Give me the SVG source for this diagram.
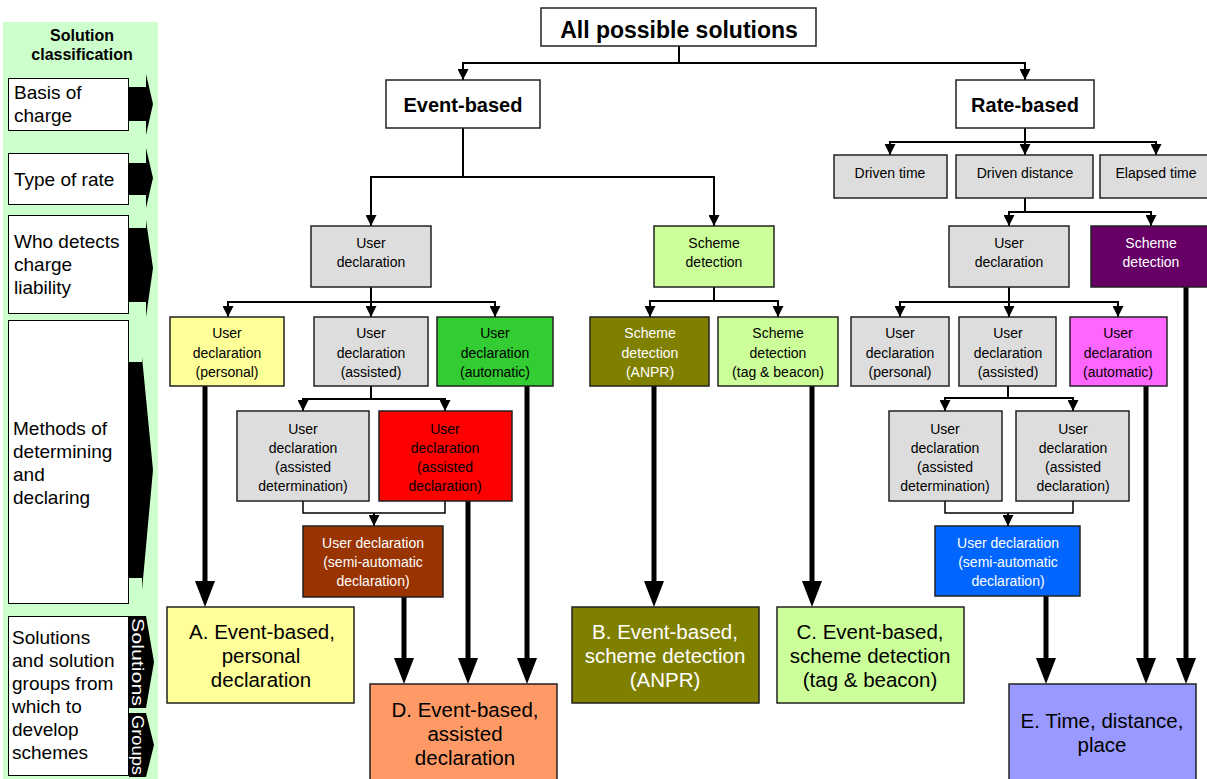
<svg xmlns="http://www.w3.org/2000/svg" width="1207" height="779" viewBox="0 0 1207 779">
<style>
text{font-family:"Liberation Sans",Arial,sans-serif;fill:#000}
.lp{font-size:19px}
.sm{font-size:14px;text-anchor:middle}
.big{font-size:20.5px;text-anchor:middle}
.hd{font-weight:bold;text-anchor:middle}
.w{fill:#fff}
.box{stroke:#222;stroke-width:1.5}
.lbox{fill:#fff;stroke:#000;stroke-width:1}
.thin{fill:none;stroke:#000;stroke-width:2}
.thick{fill:none;stroke:#000;stroke-width:5}
.gray{fill:#DDDDDD}
</style>
<defs>
<marker id="ah" markerUnits="userSpaceOnUse" markerWidth="11" markerHeight="11" viewBox="0 0 10 10" refX="10" refY="5" orient="auto"><path d="M0,0 L10,5 L0,10 z" fill="#000"/></marker>
<marker id="ahb" markerUnits="userSpaceOnUse" markerWidth="26" markerHeight="20" viewBox="0 0 26 20" refX="6" refY="10" orient="auto"><path d="M0,0 L26,10 L0,20 z" fill="#000"/></marker>
</defs>

<g id="legend">
<rect x="3" y="22" width="155" height="757" fill="#CCFFCC"/>
<text class="hd" x="82" y="41" font-size="16">Solution</text>
<text class="hd" x="82" y="60" font-size="16">classification</text>
<rect class="lbox" x="8.5" y="78.5" width="120" height="52"/>
<text class="lp" x="14" y="99">Basis of</text>
<text class="lp" x="14" y="122">charge</text>
<path d="M128,87 H146 V74 L153,104 L146,135 V121 H128 Z" fill="#000"/>
<rect class="lbox" x="8.5" y="153.5" width="120" height="51"/>
<text class="lp" x="14" y="186">Type of rate</text>
<path d="M128,163 H146 V148 L153,178 L146,208 V195 H128 Z" fill="#000"/>
<rect class="lbox" x="8.5" y="215.5" width="120" height="98"/>
<text class="lp" x="14" y="248">Who detects</text>
<text class="lp" x="14" y="271">charge</text>
<text class="lp" x="14" y="294">liability</text>
<path d="M128,228 H146 V220 L153,268 L146,317 V302 H128 Z" fill="#000"/>
<rect class="lbox" x="8.5" y="320.5" width="120" height="283"/>
<text class="lp" x="13" y="435">Methods of</text>
<text class="lp" x="13" y="458">determining</text>
<text class="lp" x="13" y="481">and</text>
<text class="lp" x="13" y="504">declaring</text>
<path d="M128,362 H142 V357 L153,470 L142,590 V578 H128 Z" fill="#000"/>
<rect class="lbox" x="8.5" y="616.5" width="120" height="159"/>
<text class="lp" x="12" y="644">Solutions</text>
<text class="lp" x="12" y="667">and solution</text>
<text class="lp" x="12" y="690">groups from</text>
<text class="lp" x="12" y="713">which to</text>
<text class="lp" x="12" y="736">develop</text>
<text class="lp" x="12" y="759">schemes</text>
<path d="M129,616 H146 L154,662 L146,708 H129 Z" fill="#000"/>
<path d="M129,713 H146 L154,745 L146,777 H129 Z" fill="#000"/>
<text class="w" font-size="16" text-anchor="middle" transform="translate(132,662) rotate(90)" textLength="88" lengthAdjust="spacingAndGlyphs">Solutions</text>
<text class="w" font-size="16" text-anchor="middle" transform="translate(132,745) rotate(90)" textLength="60" lengthAdjust="spacingAndGlyphs">Groups</text>
</g>

<g id="connectors">
<path class="thin" d="M679,46 V63"/>
<path class="thin" d="M679,63 H463 V80" marker-end="url(#ah)"/>
<path class="thin" d="M679,63 H1025 V80" marker-end="url(#ah)"/>
<path class="thin" d="M463,128 V177 H371 V226" marker-end="url(#ah)"/>
<path class="thin" d="M463,177 H714 V226" marker-end="url(#ah)"/>
<path class="thin" d="M371,287 V302 H228 V317" marker-end="url(#ah)"/>
<path class="thin" d="M371,302 V317" marker-end="url(#ah)"/>
<path class="thin" d="M371,302 H495 V317" marker-end="url(#ah)"/>
<path class="thin" d="M714,287 V301 H650 V317" marker-end="url(#ah)"/>
<path class="thin" d="M714,301 H778 V317" marker-end="url(#ah)"/>
<path class="thin" d="M371,386 V399 H303 V411" marker-end="url(#ah)"/>
<path class="thin" d="M371,399 H445 V411" marker-end="url(#ah)"/>
<path class="thin" style="stroke-width:1.5" d="M303,501 V513 H445 V501"/>
<path class="thin" d="M374,513 V526" marker-end="url(#ah)"/>
<path class="thin" d="M1025,128 V142 H890 V155" marker-end="url(#ah)"/>
<path class="thin" d="M1025,142 V155" marker-end="url(#ah)"/>
<path class="thin" d="M1025,142 H1156 V155" marker-end="url(#ah)"/>
<path class="thin" d="M1025,198 V212 H1009 V226" marker-end="url(#ah)"/>
<path class="thin" d="M1025,212 H1151 V226" marker-end="url(#ah)"/>
<path class="thin" d="M1009,287 V302 H900 V317" marker-end="url(#ah)"/>
<path class="thin" d="M1009,302 V317" marker-end="url(#ah)"/>
<path class="thin" d="M1009,302 H1118 V317" marker-end="url(#ah)"/>
<path class="thin" d="M1008,386 V398 H945 V411" marker-end="url(#ah)"/>
<path class="thin" d="M1008,398 H1073 V411" marker-end="url(#ah)"/>
<path class="thin" style="stroke-width:1.5" d="M945,501 V513 H1073 V501"/>
<path class="thin" d="M1008,513 V526" marker-end="url(#ah)"/>
<path class="thick" d="M205,386 V587" marker-end="url(#ahb)"/>
<path class="thick" d="M404,597 V664" marker-end="url(#ahb)"/>
<path class="thick" d="M468,501 V664" marker-end="url(#ahb)"/>
<path class="thick" d="M527,386 V664" marker-end="url(#ahb)"/>
<path class="thick" d="M654,386 V587" marker-end="url(#ahb)"/>
<path class="thick" d="M812,386 V587" marker-end="url(#ahb)"/>
<path class="thick" d="M1046,596 V664" marker-end="url(#ahb)"/>
<path class="thick" d="M1146,386 V664" marker-end="url(#ahb)"/>
<path class="thick" d="M1186,287 V664" marker-end="url(#ahb)"/>
</g>

<g id="n-all"><rect class="box" x="541" y="8" width="275" height="38" fill="#fff"/><text class="hd" x="679" y="38" font-size="23">All possible solutions</text></g>
<g id="n-event"><rect class="box" x="386" y="80" width="154" height="48" fill="#fff"/><text class="hd" x="463" y="112" font-size="20">Event-based</text></g>
<g id="n-rate"><rect class="box" x="956" y="80" width="138" height="48" fill="#fff"/><text class="hd" x="1025" y="112" font-size="20">Rate-based</text></g>

<g id="n-ev-ud"><rect class="box gray" x="311" y="226" width="120" height="61"/><text class="sm" x="371" y="248">User</text><text class="sm" x="371" y="267">declaration</text></g>
<g id="n-ev-sd"><rect class="box" x="654" y="226" width="120" height="61" fill="#CCFF99"/><text class="sm" x="714" y="248">Scheme</text><text class="sm" x="714" y="267">detection</text></g>
<g id="n-ev-personal"><rect class="box" x="170" y="317" width="114" height="69" fill="#FFFF99"/><text class="sm" x="227" y="338">User</text><text class="sm" x="227" y="358">declaration</text><text class="sm" x="227" y="377">(personal)</text></g>
<g id="n-ev-assisted"><rect class="box gray" x="314" y="317" width="114" height="69"/><text class="sm" x="371" y="338">User</text><text class="sm" x="371" y="358">declaration</text><text class="sm" x="371" y="377">(assisted)</text></g>
<g id="n-ev-auto"><rect class="box" x="437" y="317" width="116" height="69" fill="#33CC33"/><text class="sm" x="495" y="338">User</text><text class="sm" x="495" y="358">declaration</text><text class="sm" x="495" y="377">(automatic)</text></g>
<g id="n-ev-adet"><rect class="box gray" x="237" y="411" width="132" height="90"/><text class="sm" x="303" y="434">User</text><text class="sm" x="303" y="453">declaration</text><text class="sm" x="303" y="472">(assisted</text><text class="sm" x="303" y="491">determination)</text></g>
<g id="n-ev-adecl"><rect class="box" x="379" y="411" width="133" height="90" fill="#FF0000"/><text class="sm" x="445" y="434">User</text><text class="sm" x="445" y="453">declaration</text><text class="sm" x="445" y="472">(assisted</text><text class="sm" x="445" y="491">declaration)</text></g>
<g id="n-ev-semi"><rect class="box" x="303" y="526" width="140" height="71" fill="#993300"/><text class="sm w" x="373" y="548">User declaration</text><text class="sm w" x="373" y="567">(semi-automatic</text><text class="sm w" x="373" y="586">declaration)</text></g>
<g id="n-ev-anpr"><rect class="box" x="590" y="317" width="119" height="69" fill="#808000"/><text class="sm w" x="650" y="338">Scheme</text><text class="sm w" x="650" y="358">detection</text><text class="sm w" x="650" y="377">(ANPR)</text></g>
<g id="n-ev-tag"><rect class="box" x="718" y="317" width="120" height="69" fill="#CCFF99"/><text class="sm" x="778" y="338">Scheme</text><text class="sm" x="778" y="358">detection</text><text class="sm" x="778" y="377">(tag &amp; beacon)</text></g>

<g id="n-drtime"><rect class="box gray" x="834" y="155" width="113" height="43"/><text class="sm" x="890" y="178">Driven time</text></g>
<g id="n-drdist"><rect class="box gray" x="956" y="155" width="137" height="43"/><text class="sm" x="1025" y="178">Driven distance</text></g>
<g id="n-eltime"><rect class="box gray" x="1100" y="155" width="112" height="43"/><text class="sm" x="1156" y="178">Elapsed time</text></g>
<g id="n-rt-ud"><rect class="box gray" x="949" y="226" width="120" height="61"/><text class="sm" x="1009" y="248">User</text><text class="sm" x="1009" y="267">declaration</text></g>
<g id="n-rt-sd"><rect class="box" x="1091" y="226" width="121" height="61" fill="#660066"/><text class="sm w" x="1151" y="248">Scheme</text><text class="sm w" x="1151" y="267">detection</text></g>
<g id="n-rt-personal"><rect class="box gray" x="851" y="317" width="98" height="69"/><text class="sm" x="900" y="338">User</text><text class="sm" x="900" y="358">declaration</text><text class="sm" x="900" y="377">(personal)</text></g>
<g id="n-rt-assisted"><rect class="box gray" x="959" y="317" width="97" height="69"/><text class="sm" x="1008" y="338">User</text><text class="sm" x="1008" y="358">declaration</text><text class="sm" x="1008" y="377">(assisted)</text></g>
<g id="n-rt-auto"><rect class="box" x="1070" y="317" width="97" height="69" fill="#FF66FF"/><text class="sm" x="1118" y="338">User</text><text class="sm" x="1118" y="358">declaration</text><text class="sm" x="1118" y="377">(automatic)</text></g>
<g id="n-rt-adet"><rect class="box gray" x="889" y="411" width="113" height="90"/><text class="sm" x="945" y="434">User</text><text class="sm" x="945" y="453">declaration</text><text class="sm" x="945" y="472">(assisted</text><text class="sm" x="945" y="491">determination)</text></g>
<g id="n-rt-adecl"><rect class="box gray" x="1016" y="411" width="113" height="90"/><text class="sm" x="1073" y="434">User</text><text class="sm" x="1073" y="453">declaration</text><text class="sm" x="1073" y="472">(assisted</text><text class="sm" x="1073" y="491">declaration)</text></g>
<g id="n-rt-semi"><rect class="box" x="935" y="526" width="145" height="70" fill="#0066FF"/><text class="sm w" x="1008" y="548">User declaration</text><text class="sm w" x="1008" y="567">(semi-automatic</text><text class="sm w" x="1008" y="586">declaration)</text></g>

<g id="n-A"><rect class="box" x="167" y="607" width="187" height="96" fill="#FFFF99"/><text class="big" x="262" y="639">A. Event-based,</text><text class="big" x="261" y="663">personal</text><text class="big" x="261" y="687">declaration</text></g>
<g id="n-B"><rect class="box" x="572" y="607" width="187" height="96" fill="#808000"/><text class="big w" x="665" y="639">B. Event-based,</text><text class="big w" x="665" y="663">scheme detection</text><text class="big w" x="665" y="687">(ANPR)</text></g>
<g id="n-C"><rect class="box" x="777" y="607" width="187" height="96" fill="#CCFF99"/><text class="big" x="870" y="639">C. Event-based,</text><text class="big" x="870" y="663">scheme detection</text><text class="big" x="870" y="687">(tag &amp; beacon)</text></g>
<g id="n-D"><rect class="box" x="370" y="684" width="187" height="100" fill="#FF9966"/><text class="big" x="465" y="717">D. Event-based,</text><text class="big" x="465" y="741">assisted</text><text class="big" x="465" y="765">declaration</text></g>
<g id="n-E"><rect class="box" x="1009" y="684" width="187" height="100" fill="#9999FF"/><text class="big" x="1102" y="728">E. Time, distance,</text><text class="big" x="1102" y="752">place</text></g>
</svg>
